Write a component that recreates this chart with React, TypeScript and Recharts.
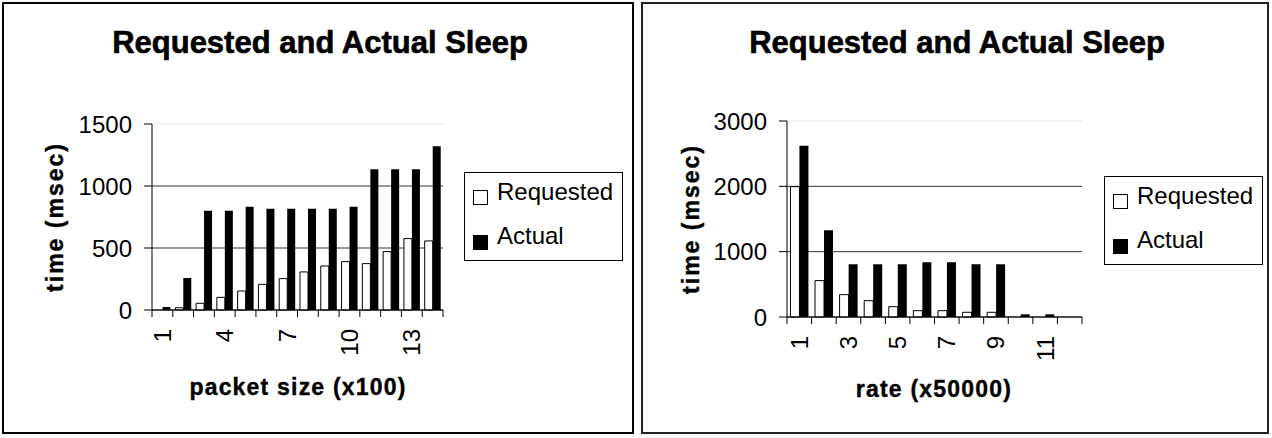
import React from 'react';
import { BarChart, Bar, XAxis, YAxis, CartesianGrid } from 'recharts';

// chart values
const packetCategories = ['1', '2', '3', '4', '5', '6', '7', '8', '9', '10', '11', '12', '13', '14'];
const packetRequested = [0, 18, 54, 102, 153, 207, 253, 307, 355, 390, 374, 471, 576, 557];
const packetActual = [24, 258, 800, 800, 832, 816, 816, 816, 816, 832, 1136, 1136, 1136, 1320];
const packetTicks = [0, 500, 1000, 1500];

const rateCategories = ['1', '2', '3', '4', '5', '6', '7', '8', '9', '10', '11', '12'];
const rateRequested = [1995, 557, 342, 250, 158, 97, 97, 72, 72, 0, 0, 0];
const rateActual = [2620, 1329, 807, 807, 807, 838, 838, 807, 807, 41, 41, 0];
const rateTicks = [0, 1000, 2000, 3000];

const FONT = '"Liberation Sans", Arial, sans-serif';
const W = 636;
const H = 438;

interface Geom {
  left: number; // chart offset on page
  plotLeft: number;
  plotRight: number;
  plotTop: number;
  plotBottom: number;
  titleX: number;
  xLabelX: number;
  xLabelY: number;
  legendX: number;
  legendY: number;
}

interface PanelProps {
  geom: Geom;
  categories: string[];
  requested: number[];
  actual: number[];
  ticks: number[];
  labelEvery: number;
  xLabel: string;
  gap: string;
}

const Legend: React.FC<{ x: number; y: number }> = ({ x, y }) => (
  <div
    style={{
      position: 'absolute', left: x, top: y, width: 159, height: 89,
      border: '1px solid #000', boxSizing: 'border-box', background: '#fff',
      fontFamily: FONT, fontSize: 24,
    }}
  >
    <div style={{ position: 'absolute', left: 8, top: 17, width: 13, height: 13, border: '1px solid #000', background: '#fff' }} />
    <div style={{ position: 'absolute', left: 32, top: 4, lineHeight: '30px' }}>Requested</div>
    <div style={{ position: 'absolute', left: 8, top: 62, width: 15, height: 15, background: '#000' }} />
    <div style={{ position: 'absolute', left: 32, top: 48, lineHeight: '30px' }}>Actual</div>
  </div>
);

const Panel: React.FC<PanelProps> = ({ geom, categories, requested, actual, ticks, labelEvery, xLabel, gap }) => {
  const data = categories.map((c, i) => ({ name: c, requested: requested[i], actual: actual[i] }));
  const n = categories.length;
  const band = (geom.plotRight - geom.plotLeft) / n;
  const y0 = geom.plotBottom;

  const xTick = (p: any) => {
    const { x, payload, index } = p;
    const ty = y0 + 19;
    return (
      <g>
        <line x1={x - band / 2} x2={x - band / 2} y1={y0} y2={y0 + 7} stroke="#000" />
        {index === n - 1 && <line x1={x + band / 2} x2={x + band / 2} y1={y0} y2={y0 + 7} stroke="#000" />}
        {index % labelEvery === 0 && (
          <text
            x={x} y={ty} transform={`rotate(-90 ${x} ${ty})`}
            textAnchor="end" dominantBaseline="central"
            fontSize={24} fontFamily={FONT} fill="#000"
          >
            {payload.value}
          </text>
        )}
      </g>
    );
  };

  const gridLine = (p: any) => (
    <line
      x1={p.x1} x2={p.x2} y1={p.y1} y2={p.y2}
      stroke={Math.abs(p.y1 - geom.plotTop) < 1 ? '#e6e6e6' : '#333'}
      strokeWidth={1}
    />
  );

  const midY = (geom.plotTop + geom.plotBottom) / 2;

  return (
    <div style={{ position: 'absolute', left: geom.left, top: 0, width: W, height: H }}>
      <BarChart
        width={W} height={H} data={data}
        margin={{ top: geom.plotTop, right: W - geom.plotRight, bottom: 0, left: 0 }}
        barGap={0} barCategoryGap={gap}
      >
        <CartesianGrid vertical={false} horizontal={gridLine} />
        <XAxis
          dataKey="name" interval={0} height={H - geom.plotBottom}
          tick={xTick} tickLine={false} axisLine={{ stroke: '#000' }}
        />
        <YAxis
          width={geom.plotLeft} domain={[ticks[0], ticks[ticks.length - 1]]} ticks={ticks}
          tickSize={8} tickMargin={12} tickLine={{ stroke: '#000' }} axisLine={{ stroke: '#000' }}
          tick={{ fontSize: 24, fill: '#000', fontFamily: FONT }}
        />
        <Bar dataKey="requested" fill="#fff" stroke="#000" strokeWidth={1} isAnimationActive={false} />
        <Bar dataKey="actual" fill="#000" isAnimationActive={false} />
      </BarChart>
      <svg width={W} height={H} style={{ position: 'absolute', left: 0, top: 0, pointerEvents: 'none' }}>
        <text
          x={geom.titleX} y={53} textAnchor="middle" fontSize={31} fontWeight="bold" fontFamily={FONT}
          stroke="#000" strokeWidth={0.6}
        >
          Requested and Actual Sleep
        </text>
        <text
          x={55} y={midY} transform={`rotate(-90 55 ${midY})`} textAnchor="middle" dominantBaseline="central"
          fontSize={23} fontWeight="bold" fontFamily={FONT} letterSpacing={2} stroke="#000" strokeWidth={0.4}
        >
          time (msec)
        </text>
        <text
          x={geom.xLabelX} y={geom.xLabelY} textAnchor="middle" fontSize={23} fontWeight="bold" fontFamily={FONT}
          letterSpacing={1.2} stroke="#000" strokeWidth={0.4}
        >
          {xLabel}
        </text>
      </svg>
      <Legend x={geom.legendX} y={geom.legendY} />
    </div>
  );
};

const leftGeom: Geom = {
  left: 0, plotLeft: 152, plotRight: 443, plotTop: 124, plotBottom: 310,
  titleX: 320, xLabelX: 298, xLabelY: 395, legendX: 464, legendY: 172,
};

const rightGeom: Geom = {
  left: 636, plotLeft: 151, plotRight: 446, plotTop: 121, plotBottom: 317,
  titleX: 321, xLabelX: 298, xLabelY: 397, legendX: 468, legendY: 176,
};

export default function App() {
  return (
    <div style={{ position: 'absolute', left: 0, top: 0, width: 1272, height: 438, background: '#fff', overflow: 'hidden' }}>
      <div style={{ position: 'absolute', left: 2, top: 2, width: 632, height: 432, border: '2px solid #000', boxSizing: 'border-box' }} />
      <div style={{ position: 'absolute', left: 641, top: 2, width: 628, height: 432, border: '2px solid #222', boxSizing: 'border-box' }} />
      <Panel
        geom={leftGeom} categories={packetCategories} requested={packetRequested} actual={packetActual}
        ticks={packetTicks} labelEvery={3} xLabel="packet size (x100)" gap="12%"
      />
      <Panel
        geom={rightGeom} categories={rateCategories} requested={rateRequested} actual={rateActual}
        ticks={rateTicks} labelEvery={2} xLabel="rate (x50000)" gap="14%"
      />
    </div>
  );
}
